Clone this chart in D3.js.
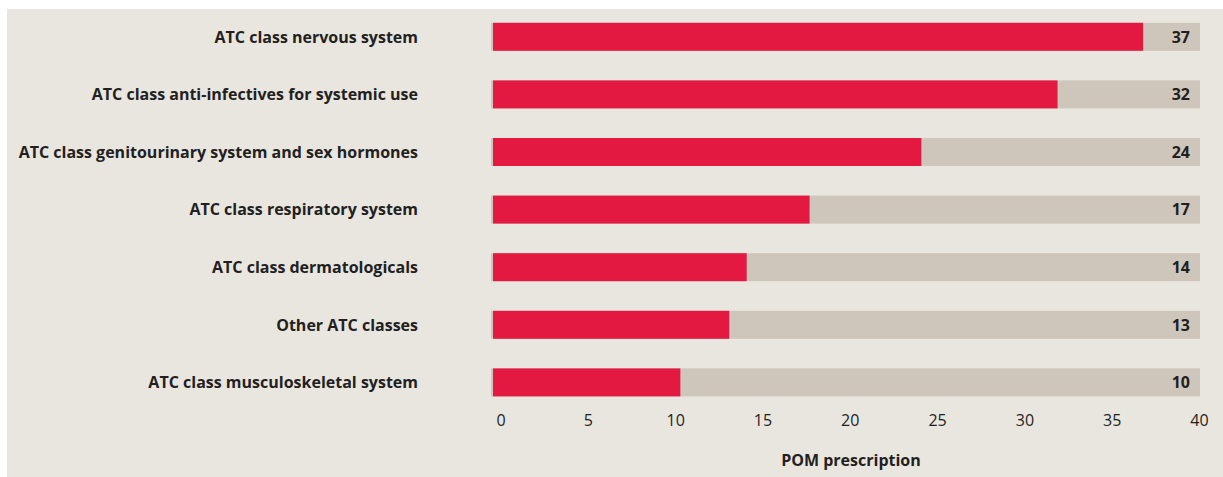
<!DOCTYPE html>
<html>
<head>
<meta charset="utf-8">
<script src="https://cdn.jsdelivr.net/npm/d3@7"></script>
<style>
  body { margin: 0; background: #fff; }
  svg { display: block; }
  text { font-family: "Open Sans", "Lato", sans-serif; fill: #231f20; }
</style>
</head>
<body>
<div id="chart-area"></div>
<script>
// ATC classes, top to bottom
let categories = [
    "ATC class nervous system",
    "ATC class anti-infectives for systemic use",
    "ATC class genitourinary system and sex hormones",
    "ATC class respiratory system",
    "ATC class dermatologicals",
    "Other ATC classes",
    "ATC class musculoskeletal system"
];
// bar lengths
let values = [36.8, 31.9, 24.1, 17.7, 14.1, 13.1, 10.3];
// numbers printed at the right end of each bar
let valueLabels = ["37", "32", "24", "17", "14", "13", "10"];
let tickValues = [0, 5, 10, 15, 20, 25, 30, 35, 40];
let maxValue = 40;

let width = 1223, height = 477;

let svg = d3.select("#chart-area")
    .append("svg")
        .attr("width", width)
        .attr("height", height);

// beige panel
svg.append("rect")
    .attr("x", 7)
    .attr("y", 9)
    .attr("width", width - 7)
    .attr("height", height - 9)
    .attr("fill", "#e9e6e0");

let x = d3.scaleLinear()
    .domain([0, maxValue])
    .range([500.5, 1199]);

let y = d3.scaleBand()
    .domain(categories)
    .range([8, 8 + 7 * 57.6])
    .paddingInner(0.514)
    .paddingOuter(0.257);

let barStart = x(0) - 7.5;

// grey track behind each bar
svg.selectAll("rect.track")
    .data(categories)
    .enter()
    .append("rect")
        .attr("class", "track")
        .attr("x", barStart - 2)
        .attr("y", d => y(d))
        .attr("width", x(maxValue) + 1 - (barStart - 2))
        .attr("height", y.bandwidth())
        .attr("fill", "#cec6bb");

// red bars
svg.selectAll("rect.bar")
    .data(values)
    .enter()
    .append("rect")
        .attr("class", "bar")
        .attr("x", barStart)
        .attr("y", (d, i) => y(categories[i]))
        .attr("width", d => x(d) - barStart)
        .attr("height", y.bandwidth())
        .attr("fill", "#e41941");

// value labels
svg.selectAll("text.value")
    .data(valueLabels)
    .enter()
    .append("text")
        .attr("class", "value")
        .attr("x", 1190)
        .attr("y", (d, i) => y(categories[i]) + y.bandwidth() / 2)
        .attr("dy", "0.36em")
        .attr("text-anchor", "end")
        .attr("font-size", "16px")
        .attr("font-weight", "bold")
        .text(d => d);

// category labels
svg.selectAll("text.cat")
    .data(categories)
    .enter()
    .append("text")
        .attr("class", "cat")
        .attr("x", 418)
        .attr("y", d => y(d) + y.bandwidth() / 2)
        .attr("dy", "0.36em")
        .attr("text-anchor", "end")
        .attr("font-size", "16px")
        .attr("font-weight", "bold")
        .text(d => d);

// x axis, no line or ticks
let xAxisGroup = svg.append("g")
    .attr("class", "x-axis")
    .attr("transform", "translate(0, 410)")
    .call(d3.axisBottom(x).tickValues(tickValues).tickSize(0).tickPadding(0));

xAxisGroup.select(".domain").remove();
xAxisGroup.selectAll("text")
    .attr("dy", "0.71em")
    .attr("y", 5)
    .attr("font-size", "16px")
    .attr("font-family", "'Open Sans', Lato, sans-serif")
    .attr("fill", "#231f20");

svg.append("text")
    .attr("x", 851)
    .attr("y", 466)
    .attr("text-anchor", "middle")
    .attr("font-size", "16px")
    .attr("font-weight", "bold")
    .text("POM prescription");
</script>
</body>
</html>
